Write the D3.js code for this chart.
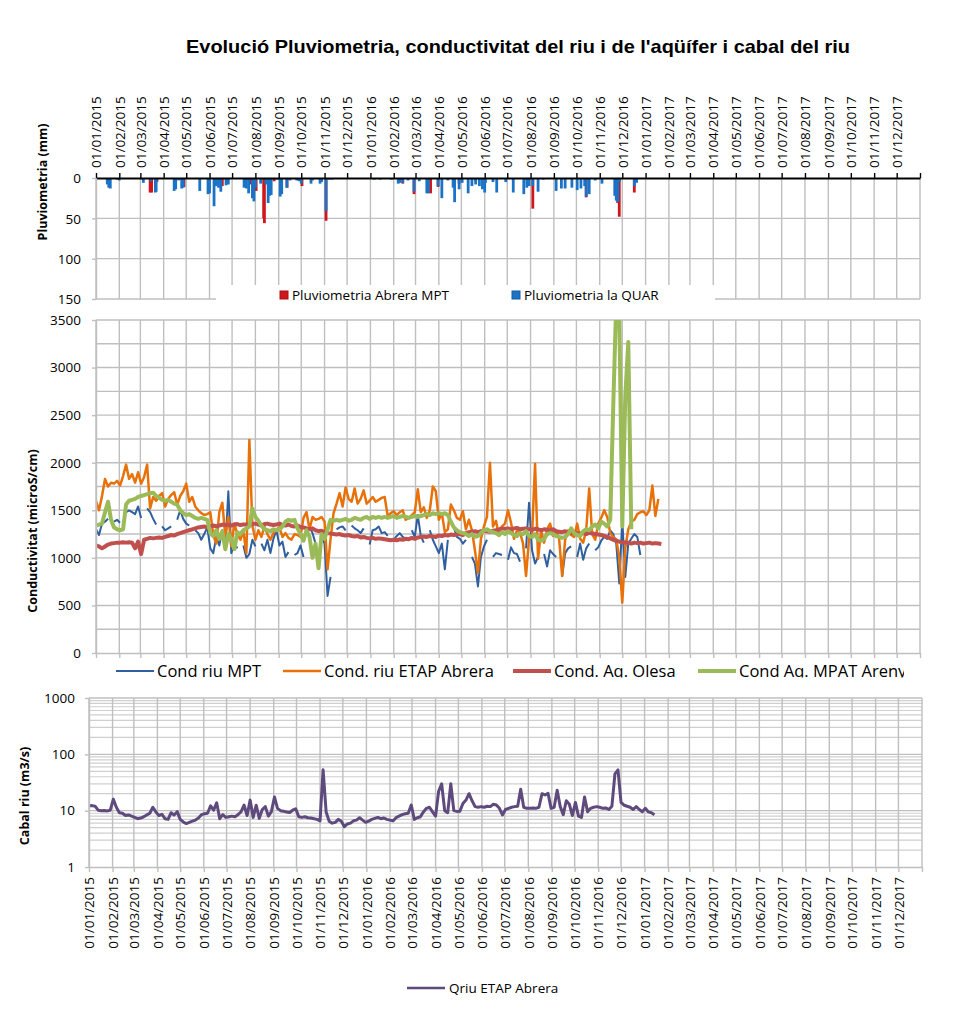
<!DOCTYPE html>
<html>
<head>
<meta charset="utf-8">
<script src="https://cdn.jsdelivr.net/npm/d3@7"></script>
<style>
  body { margin: 0; background: #fff; }
  text { font-family: "Open Sans", sans-serif; }
</style>
</head>
<body>
<div id="chart"></div>
<script>
// ---- data ----
var title = "Evolució Pluviometria, conductivitat del riu i de l'aqüífer i cabal del riu";
var stepDays = 4; // line series: one reading every 4 days from 01/01/2015

// rain, [day since 01/01/2015, mm]
var rainAbrera = [[62,2],[72,18],[74,18],[81,5],[117,11],[150,4],[168,10],[205,8],[213,16],[223,50],[224,56],
  [237,4],[254,12],[274,10],[306,53],[408,7],[423,20],[445,19],[455,11],[477,4],[483,7],[505,4],[581,38],
  [640,1],[652,24],[694,31],[696,48],[716,18]];
var rainQuar = [[15,8],[17,12],[19,13],[28,2],[31,3],[47,1],[53,1],[63,6],[73,4],[79,18],[80,17],[104,16],
  [106,14],[110,3],[114,13],[116,12],[138,16],[149,20],[151,19],[157,35],[160,10],[163,12],[166,17],[173,9],
  [176,8],[197,12],[200,13],[203,19],[208,25],[210,29],[212,12],[219,7],[226,8],[229,31],[231,22],[233,21],
  [241,2],[245,23],[247,20],[254,12],[258,3],[267,3],[270,4],[273,7],[286,7],[288,3],[298,7],[300,5],[306,41],
  [310,2],[314,2],[340,1],[366,1],[370,2],[374,1],[378,2],[389,1],[393,2],[402,7],[404,6],[408,6],[415,3],
  [423,17],[430,4],[440,19],[442,19],[455,10],[460,25],[468,3],[475,12],[477,30],[483,14],[487,6],[495,19],
  [500,10],[505,8],[510,10],[514,14],[517,18],[518,6],[528,5],[533,18],[545,5],[555,18],[569,20],[573,12],
  [576,10],[581,10],[588,17],[595,2],[612,16],[619,13],[624,13],[633,12],[640,15],[645,13],[650,10],[652,23],
  [656,20],[664,3],[673,7],[677,1],[690,22],[692,28],[694,30],[696,5],[700,1],[716,10],[719,6]];

var condMPT = [1300,1240,1360,1380,1410,null,1380,1400,1370,null,
  1480,1500,1480,1460,1540,1420,null,1520,1480,1410,
  1350,null,1330,1290,1310,1330,null,1400,1500,1410,
  1360,1340,null,1290,1260,1190,1250,1320,1100,1050,
  1220,1130,1290,1090,1700,1050,1150,1100,null,1130,
  1000,1040,1190,1120,null,1150,1080,1190,1050,1200,
  1290,1130,1170,1010,1060,null,1030,1050,1130,1010,
  null,1330,1260,1150,null,1220,1150,600,800,null,
  1300,1320,1330,1290,null,1340,1310,1290,1260,1310,
  null,1140,1290,1300,1330,1260,1270,1230,null,1190,
  1230,1260,1220,1200,null,1290,1220,1450,1230,1160,
  null,1290,1190,1120,1050,1150,880,1190,null,1320,
  1220,1200,1150,1190,null,1010,940,700,1010,1120,
  1190,null,1010,1050,1040,1030,null,980,1110,1050,
  1040,960,null,1100,1580,1080,940,1010,null,1040,
  910,1080,1040,1010,null,800,1050,1100,1120,null,
  1010,1150,980,1100,1150,null,1080,1110,1180,1220,
  1200,1290,1250,1150,730,1400,800,1150,1200,1250,
  1220,1030];
var condETAP = [1600,1500,1650,1830,1750,1790,1780,1810,1760,1860,
  1980,1830,1880,1790,1900,1780,1850,1980,1520,1640,
  1600,1650,1680,1540,1620,1660,1690,1560,1650,1700,
  1780,1590,1640,1540,1500,1470,1450,1460,1480,1240,
  1150,1480,1580,1230,1430,1120,1360,1250,1190,1280,
  1050,2240,1340,1190,1290,1220,1330,1250,1190,1260,
  1300,1320,1220,1260,1210,1190,1250,1240,1220,1420,
  1480,1300,1430,1400,1410,1430,1380,880,1200,1470,
  1570,1680,1540,1740,1620,1590,1730,1570,1620,1710,
  1570,1600,1640,1590,1610,1630,1640,1440,1470,1490,
  1450,1480,1500,1400,1420,1450,1480,1720,1480,1530,
  1420,1500,1750,1700,1400,1470,1270,1300,1560,1500,
  1420,1400,1490,1300,1400,1290,1080,840,1200,1330,
  1430,2000,1330,1390,1230,1330,1360,1500,1370,1200,
  1290,1270,1150,810,1200,1240,1990,990,1290,1160,
  1300,1360,1230,1290,1200,810,1190,1290,1240,1220,
  1360,1200,1160,1290,1730,1250,1190,1360,1420,1500,
  1430,1260,1220,1190,1010,530,1100,1300,1380,1400,
  1460,1480,1490,1450,1500,1760,1440,1620];
var condOlesa = [1130,1120,1100,1120,1140,1150,1155,1160,1160,1165,
  1160,1165,1160,1100,1170,1040,1190,1200,1210,1205,
  1210,1215,1210,1220,1230,1240,1235,1250,1260,1270,
  1280,1290,1300,1310,1320,1325,1330,1320,1330,1340,
  1330,1340,1350,1345,1350,1340,1350,1355,1345,1350,
  1350,1345,1355,1360,1350,1340,1355,1360,1350,1345,
  1350,1360,1345,1340,1350,1335,1330,1340,1325,1320,
  1310,1300,1310,1290,1280,1285,1270,1260,1255,1250,
  1245,1250,1240,1235,1240,1230,1225,1230,1215,1220,
  1210,1205,1210,1200,1205,1200,1195,1190,1185,1190,
  1185,1195,1190,1200,1195,1210,1200,1215,1220,1225,
  1220,1230,1225,1220,1235,1230,1240,1235,1245,1240,
  1245,1250,1240,1260,1270,1275,1280,1270,1280,1285,
  1280,1275,1285,1290,1300,1310,1305,1310,1300,1310,
  1315,1300,1305,1310,1300,1295,1305,1300,1290,1300,
  1295,1290,1300,1280,1275,1270,1280,1265,1260,1270,
  1260,1255,1260,1250,1265,1255,1250,1245,1240,1230,
  1220,1205,1190,1180,1170,1160,1165,1160,1150,1160,
  1155,1160,1150,1155,1160,1150,1155,1150,1145];
var condMPAT = [1340,1350,1360,1480,1590,1400,1320,1300,1290,1300,
  1560,1600,1610,1620,1640,1650,1660,1670,1680,1685,
  1650,1630,1610,1600,1610,1590,1570,1560,1500,1470,
  1450,1460,1440,1420,1410,1420,1410,1400,1260,1230,
  1290,1200,1280,1090,1250,1200,1090,1270,1250,1290,
  1310,1330,1520,1430,1390,1340,1300,1290,1280,1300,
  1290,1300,1330,1380,1400,1390,1400,1310,1250,1180,
  1290,1220,1000,1150,890,1250,1200,1300,1400,1390,
  1400,1390,1400,1410,1390,1400,1420,1410,1400,1420,
  1430,1410,1430,1420,1430,1420,1430,1420,1430,1440,
  1420,1430,1440,1430,1420,1430,1440,1430,1440,1450,
  1460,1450,1470,1460,1470,1460,1470,1450,1380,1320,
  1290,1270,1260,1250,1230,1250,1220,1230,1260,1290,
  1300,1280,1270,1260,1240,1270,1250,1280,1260,1240,
  1230,1260,1250,1280,1230,1220,1250,1190,1180,1200,
  1250,1260,1250,1230,1220,1210,1220,1250,1310,1260,
  1240,1230,1280,1300,1290,1330,1350,1310,1380,1360,
  1330,1400,2600,3700,3600,1330,2700,3270,1300];
var qriu = [12.2,12.3,12,10.2,10,10.1,9.9,10.2,16,11.5,
  9.2,9,8.2,8.4,8,7.6,7.2,7.4,7.8,8.4,
  9,11.5,9.5,8.2,8.6,7.2,7,9.2,8.4,9.6,
  7,6.3,5.9,6.2,6.5,6.8,7.4,8.5,8.8,9,
  12.2,10.2,13.8,7.2,8.5,7.6,7.8,8,7.8,8.5,
  9.5,12.6,8.2,15.4,7.6,12.5,7.3,10.5,11.8,8,
  9.6,17.5,11,10,9.8,9.5,9.3,10.2,10.8,7.8,
  7.6,7.8,7.5,7.4,7.2,7,6.6,53,9.5,6.5,
  6,6.2,7,6.5,5.2,5.8,6,6.6,6.8,7.5,
  6.8,6.2,6.5,7,7.3,7.6,7.2,7.4,7,6.8,
  6.6,7.5,8,8.5,8.8,9,12.6,7,7.5,7.8,
  9.5,11,11.5,9.5,8,22,30,10,9.2,30,
  10,9.7,9.8,13.4,15.4,20,15,11.8,11.5,11.8,
  11.5,12,11.8,13,12.6,11,8.4,10.5,11,11.5,
  11.8,12,24,11.5,11,11,11.2,11,11.5,20,
  19,20.3,11,11.5,23,11.8,8.5,15,13,8.2,
  14,8,7.6,17.5,9.6,11,11.5,11.8,11.5,11,
  11.2,10.5,12,45,53,14,12.5,12,11.5,10.5,
  11.8,10.5,9.6,11,9.5,9.2,8.5];

var condSeries = [
  {name: "Cond riu MPT", values: condMPT, color: "#2f5f9e", width: 2},
  {name: "Cond. riu ETAP Abrera", values: condETAP, color: "#e8710a", width: 2.5},
  {name: "Cond. Aq. Olesa", values: condOlesa, color: "#c0504d", width: 4},
  {name: "Cond Aq. MPAT Arenys", values: condMPAT, color: "#9bbb59", width: 4}
];

// ---- setup ----
var svg = d3.select("#chart").append("svg")
    .attr("width", 976)
    .attr("height", 1016);

var t0 = new Date(Date.UTC(2015, 0, 1)), t1 = new Date(Date.UTC(2018, 0, 1));
var months = d3.utcMonth.range(t0, t1);
var gridMonths = months.concat([t1]);
var fmt = d3.utcFormat("%d/%m/%Y");
var grid = "#bfbfbf";
function dayDate(d) { return d3.utcDay.offset(t0, d); }
function stepDate(i) { return d3.utcDay.offset(t0, i * stepDays); }

svg.append("text")
    .attr("x", 518).attr("y", 53)
    .attr("text-anchor", "middle")
    .attr("textLength", 664)
    .attr("lengthAdjust", "spacingAndGlyphs")
    .style("font-family", "'Liberation Sans', Arial, sans-serif")
    .style("font-weight", "bold")
    .style("font-size", "19px")
    .text(title);

function yTitle(txt, x, y) {
  svg.append("text")
      .attr("transform", "translate(" + x + "," + y + ") rotate(-90)")
      .attr("text-anchor", "middle")
      .style("font-weight", "bold")
      .style("font-size", "12.5px")
      .text(txt);
}

function styleAxis(g, color) {
  g.select(".domain").attr("stroke", color).attr("stroke-width", 1.4);
  g.selectAll(".tick line").attr("stroke", color).attr("stroke-width", 1.4);
  g.selectAll("text").style("font-size", "13.5px").attr("fill", "#000");
}

// ---- panel 1: rain ----
var x1 = d3.scaleTime().domain([t0, t1]).range([96, 920]);
var yR = d3.scaleLinear().domain([0, 150]).range([178, 299]);
var p1 = svg.append("g");

p1.selectAll(".vg").data(gridMonths).enter().append("line")
    .attr("x1", function(d) { return x1(d); }).attr("x2", function(d) { return x1(d); })
    .attr("y1", yR(0)).attr("y2", yR(150))
    .attr("stroke", grid).attr("stroke-width", 1.4);
p1.selectAll(".hg").data([50, 100, 150]).enter().append("line")
    .attr("x1", 96).attr("x2", 920)
    .attr("y1", function(d) { return yR(d); }).attr("y2", function(d) { return yR(d); })
    .attr("stroke", grid).attr("stroke-width", 1.4);

p1.selectAll(".ra").data(rainAbrera).enter().append("rect")
    .attr("x", function(d) { return x1(dayDate(d[0])) - 1.4; })
    .attr("width", 2.8)
    .attr("y", yR(0))
    .attr("height", function(d) { return yR(d[1]) - yR(0); })
    .attr("fill", "#d0161b");
p1.selectAll(".rq").data(rainQuar).enter().append("rect")
    .attr("x", function(d) { return x1(dayDate(d[0])) - 1.4; })
    .attr("width", 2.8)
    .attr("y", yR(0))
    .attr("height", function(d) { return yR(d[1]) - yR(0); })
    .attr("fill", "#1a73c6");

// legend box hides part of the grid
p1.append("rect").attr("x", 216).attr("y", 285).attr("width", 499).attr("height", 27).attr("fill", "#fff");
var rainLeg = [{name: "Pluviometria Abrera MPT", color: "#d0161b", x: 280},
               {name: "Pluviometria la QUAR", color: "#1a73c6", x: 512}];
rainLeg.forEach(function(l) {
  p1.append("rect").attr("x", l.x).attr("y", 291).attr("width", 8).attr("height", 8)
      .attr("fill", l.color).attr("stroke", d3.color(l.color).darker(0.6)).attr("stroke-width", 1);
  p1.append("text").attr("x", l.x + 12).attr("y", 300).style("font-size", "13.5px").text(l.name);
});

var ax1 = p1.append("g").attr("transform", "translate(0," + yR(0) + ")")
    .call(d3.axisTop(x1).tickValues(gridMonths).tickFormat(function(d) { return d < t1 ? fmt(d) : ""; })
      .tickSize(5).tickSizeOuter(0));
styleAxis(ax1, "#000");
ax1.select(".domain").attr("stroke-width", 1.8);
ax1.selectAll("text")
    .attr("transform", "rotate(-90)")
    .attr("x", 10).attr("y", 0).attr("dy", "0.35em")
    .attr("text-anchor", "start");

var ay1 = p1.append("g").attr("transform", "translate(96,0)")
    .call(d3.axisLeft(yR).tickValues([0, 50, 100, 150]).tickFormat(d3.format("d"))
      .tickSize(4).tickPadding(11).tickSizeOuter(0));
styleAxis(ay1, grid);
ay1.selectAll("text").attr("dy", "0.35em");
yTitle("Pluviometria (mm)", 47, 182);

// ---- panel 2: conductivity ----
var yC = d3.scaleLinear().domain([0, 3500]).range([653, 320]);
var p2 = svg.append("g");

p2.selectAll(".vg").data(gridMonths).enter().append("line")
    .attr("x1", function(d) { return x1(d); }).attr("x2", function(d) { return x1(d); })
    .attr("y1", yC(0)).attr("y2", yC(3500))
    .attr("stroke", grid).attr("stroke-width", 1.4);
p2.selectAll(".hg").data(d3.range(250, 3501, 250)).enter().append("line")
    .attr("x1", 96).attr("x2", 920)
    .attr("y1", function(d) { return yC(d); }).attr("y2", function(d) { return yC(d); })
    .attr("stroke", grid).attr("stroke-width", 1.4);

svg.append("clipPath").attr("id", "clipC")
  .append("rect").attr("x", 96).attr("y", 320).attr("width", 824).attr("height", 333);

var condLine = d3.line()
    .defined(function(d) { return d != null; })
    .x(function(d, i) { return x1(stepDate(i)); })
    .y(function(d) { return yC(d); });

p2.append("g").attr("clip-path", "url(#clipC)")
  .selectAll("path").data(condSeries).enter().append("path")
    .attr("d", function(s) { return condLine(s.values); })
    .attr("fill", "none")
    .attr("stroke", function(s) { return s.color; })
    .attr("stroke-width", function(s) { return s.width; })
    .attr("stroke-linejoin", "round");

var ax2 = p2.append("g").attr("transform", "translate(0," + yC(0) + ")")
    .call(d3.axisBottom(x1).tickValues(gridMonths).tickFormat("").tickSize(5).tickSizeOuter(0));
styleAxis(ax2, grid);
var ay2 = p2.append("g").attr("transform", "translate(96,0)")
    .call(d3.axisLeft(yC).tickValues(d3.range(0, 3501, 500)).tickFormat(d3.format("d"))
      .tickSize(4).tickPadding(11).tickSizeOuter(0));
styleAxis(ay2, grid);
yTitle("Conductivitat (microS/cm)", 37, 531);

// legend text is cut at the bottom and right edge, as in the original
svg.append("clipPath").attr("id", "clipL")
  .append("rect").attr("x", 0).attr("y", 655).attr("width", 904).attr("height", 22.5);
var legX = [116, 283, 513, 698];
var leg2 = p2.append("g").attr("clip-path", "url(#clipL)");
condSeries.forEach(function(s, i) {
  leg2.append("line").attr("x1", legX[i]).attr("x2", legX[i] + 38).attr("y1", 671).attr("y2", 671)
      .attr("stroke", s.color).attr("stroke-width", s.width);
  leg2.append("text").attr("x", legX[i] + 41).attr("y", 677).style("font-size", "16.5px").text(s.name);
});

// ---- panel 3: river flow ----
var x3 = d3.scaleTime().domain([t0, t1]).range([89, 922]);
var yQ = d3.scaleLog().domain([1, 1000]).range([867, 698]);
var p3 = svg.append("g");

var minor = [];
[1, 10, 100].forEach(function(b) { for (var k = 2; k <= 9; k++) minor.push(b * k); });
p3.selectAll(".mg").data(minor).enter().append("line")
    .attr("x1", 89).attr("x2", 922)
    .attr("y1", function(d) { return yQ(d); }).attr("y2", function(d) { return yQ(d); })
    .attr("stroke", "#cfcfcf").attr("stroke-width", 1.2);
p3.selectAll(".hg").data([10, 100, 1000]).enter().append("line")
    .attr("x1", 89).attr("x2", 922)
    .attr("y1", function(d) { return yQ(d); }).attr("y2", function(d) { return yQ(d); })
    .attr("stroke", grid).attr("stroke-width", 1.4);
p3.selectAll(".vg").data(gridMonths).enter().append("line")
    .attr("x1", function(d) { return x3(d); }).attr("x2", function(d) { return x3(d); })
    .attr("y1", yQ(1)).attr("y2", yQ(1000))
    .attr("stroke", grid).attr("stroke-width", 1.4);

p3.append("path")
    .attr("d", d3.line()
      .x(function(d, i) { return x3(stepDate(i)); })
      .y(function(d) { return yQ(d); })(qriu))
    .attr("fill", "none")
    .attr("stroke", "#5f4a7d")
    .attr("stroke-width", 3)
    .attr("stroke-linejoin", "round");

var ax3 = p3.append("g").attr("transform", "translate(0," + yQ(1) + ")")
    .call(d3.axisBottom(x3).tickValues(gridMonths).tickFormat(function(d) { return d < t1 ? fmt(d) : ""; })
      .tickSize(5).tickSizeOuter(0));
styleAxis(ax3, grid);
ax3.selectAll("text")
    .attr("transform", "rotate(-90)")
    .attr("x", -10).attr("y", 0).attr("dy", "0.35em")
    .attr("text-anchor", "end");

var ay3 = p3.append("g").attr("transform", "translate(89,0)")
    .call(d3.axisLeft(yQ).tickValues([1, 10, 100, 1000]).tickFormat(d3.format("d"))
      .tickSize(4).tickPadding(10).tickSizeOuter(0));
styleAxis(ay3, grid);
yTitle("Cabal riu (m3/s)", 29, 796);

p3.append("line").attr("x1", 407).attr("x2", 445).attr("y1", 988).attr("y2", 988)
    .attr("stroke", "#5f4a7d").attr("stroke-width", 2.5);
p3.append("text").attr("x", 449).attr("y", 993).style("font-size", "13.5px").text("Qriu ETAP Abrera");
</script>
</body>
</html>
